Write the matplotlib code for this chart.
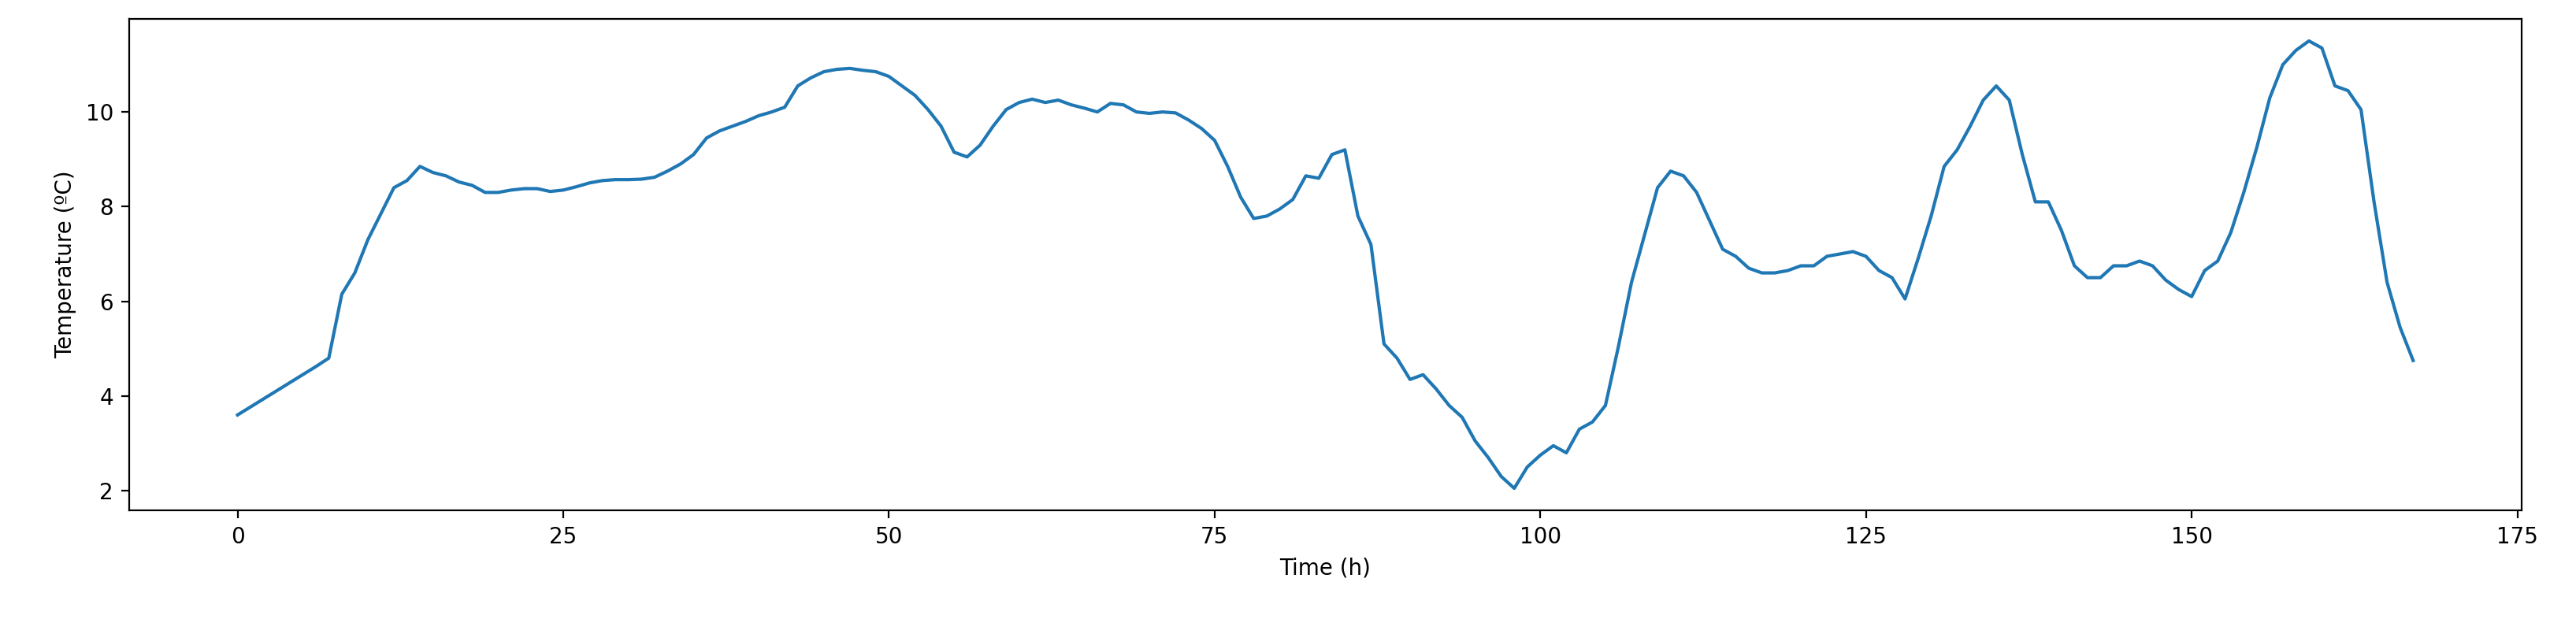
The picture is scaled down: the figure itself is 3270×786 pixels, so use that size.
import matplotlib
matplotlib.use('Agg')
import matplotlib.pyplot as plt
import numpy as np

# hourly temperature (ºC), hours 0..167
temp = [3.6, 3.77, 3.94, 4.11, 4.28, 4.45, 4.62, 4.8, 6.15, 6.6,
        7.3, 7.85, 8.4, 8.55, 8.85, 8.72, 8.65, 8.52, 8.45, 8.3,
        8.3, 8.35, 8.38, 8.38, 8.32, 8.35, 8.42, 8.5, 8.55, 8.57,
        8.57, 8.58, 8.62, 8.75, 8.9, 9.1, 9.45, 9.6, 9.7, 9.8,
        9.92, 10.0, 10.1, 10.55, 10.72, 10.85, 10.9, 10.92, 10.88, 10.85,
        10.75, 10.55, 10.35, 10.05, 9.7, 9.15, 9.05, 9.3, 9.7, 10.05,
        10.2, 10.27, 10.2, 10.25, 10.15, 10.08, 10.0, 10.18, 10.15, 10.0,
        9.97, 10.0, 9.98, 9.83, 9.65, 9.4, 8.85, 8.2, 7.75, 7.8,
        7.95, 8.15, 8.65, 8.6, 9.1, 9.2, 7.8, 7.2, 5.1, 4.8,
        4.35, 4.45, 4.15, 3.8, 3.55, 3.05, 2.7, 2.3, 2.05, 2.5,
        2.75, 2.95, 2.8, 3.3, 3.45, 3.8, 5.05, 6.4, 7.4, 8.4,
        8.75, 8.65, 8.3, 7.7, 7.1, 6.95, 6.7, 6.6, 6.6, 6.65,
        6.75, 6.75, 6.95, 7.0, 7.05, 6.95, 6.65, 6.5, 6.05, 6.9,
        7.8, 8.85, 9.2, 9.7, 10.25, 10.55, 10.25, 9.1, 8.1, 8.1,
        7.5, 6.75, 6.5, 6.5, 6.75, 6.75, 6.85, 6.75, 6.45, 6.25,
        6.1, 6.65, 6.85, 7.45, 8.3, 9.25, 10.3, 11.0, 11.3, 11.5,
        11.35, 10.55, 10.45, 10.05, 8.1, 6.4, 5.45, 4.75]
hours = np.arange(len(temp))

fig = plt.figure(figsize=(16.35, 3.93), dpi=200)
ax = fig.add_axes([0.05, 0.175, 0.929, 0.795])
ax.plot(hours, temp)
ax.set_xlabel('Time (h)')
ax.set_ylabel('Temperature (ºC)')
fig.savefig('out.png')
